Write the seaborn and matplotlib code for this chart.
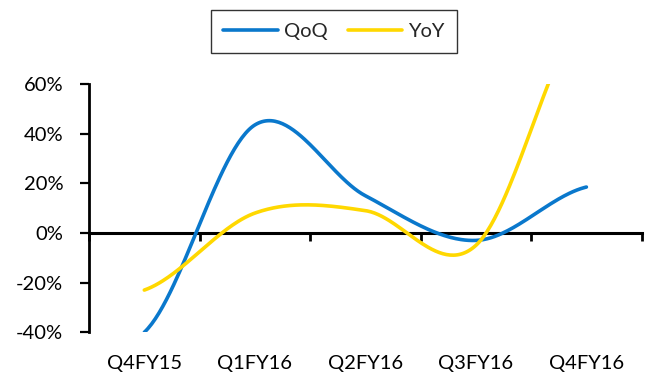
import numpy as np
import pandas as pd
import matplotlib
matplotlib.use("Agg")
import matplotlib.pyplot as plt
import seaborn as sns

categories = ["Q4FY15", "Q1FY16", "Q2FY16", "Q3FY16", "Q4FY16"]
qoq = [-40, 43.5, 15, -3, 18.5]
yoy = [-23, 8, 9, -5, 90]
series_names = ["QoQ", "YoY"]
colors = ["#0A78CC", "#FFD800"]

sns.set_theme(style="white")
plt.rcParams["font.family"] = ["Lato", "DejaVu Sans"]


def smooth(vals, n=60):
    """Catmull-Rom style smoothing (like a spreadsheet 'smoothed line')."""
    y = np.asarray(vals, dtype=float)
    k = len(y)
    m = np.zeros(k)
    for i in range(k):
        if i == 0:
            m[i] = (y[1] - y[0]) * 0.5
        elif i == k - 1:
            m[i] = (y[-1] - y[-2]) * 0.5
        else:
            m[i] = (y[i + 1] - y[i - 1]) / 2.0
    xs, ys = [], []
    for i in range(k - 1):
        t = np.linspace(0, 1, n, endpoint=(i == k - 2))
        h00 = 2 * t**3 - 3 * t**2 + 1
        h10 = t**3 - 2 * t**2 + t
        h01 = -2 * t**3 + 3 * t**2
        h11 = t**3 - t**2
        xs.append(i + t)
        ys.append(h00 * y[i] + h10 * m[i] + h01 * y[i + 1] + h11 * m[i + 1])
    return np.concatenate(xs), np.concatenate(ys)


frames = []
for name, vals in zip(series_names, [qoq, yoy]):
    sx, sy = smooth(vals)
    frames.append(pd.DataFrame({"x": sx, "y": sy, "series": name}))
df = pd.concat(frames, ignore_index=True)

fig = plt.figure(figsize=(6.67, 3.77), dpi=100)
ax = fig.add_axes([0.1335, 0.1186, 0.962 - 0.1335, 0.6586])

sns.lineplot(data=df, x="x", y="y", hue="series", palette=colors,
             linewidth=2.6, ax=ax, sort=False, estimator=None, legend=True)

ax.set_xlim(-0.5, len(categories) - 0.5)
ax.set_ylim(-40, 60)
ax.set_xlabel("")
ax.set_ylabel("")

ax.set_yticks([-40, -20, 0, 20, 40, 60])
ax.set_yticklabels([f"{v}%" for v in [-40, -20, 0, 20, 40, 60]])
ax.set_xticks(range(len(categories)))
ax.set_xticklabels(categories)

for s in ["top", "right", "bottom"]:
    ax.spines[s].set_visible(False)
ax.spines["left"].set_color("black")
ax.spines["left"].set_linewidth(2.0)

ax.tick_params(axis="y", direction="out", length=6.5, width=1.6, color="black",
               pad=12, labelsize=14.5, labelcolor="black", left=True)
ax.tick_params(axis="x", length=0, pad=16, labelsize=14.5, labelcolor="black")

# zero axis line with category-boundary tick marks
sec = ax.secondary_xaxis(0.4)
sec.set_xticks(np.arange(-0.5, len(categories), 1.0))
sec.set_xticklabels([])
sec.tick_params(axis="x", direction="out", length=6, width=2.0, color="black")
sec.spines["bottom"].set_color("black")
sec.spines["bottom"].set_linewidth(2.2)
sec.spines["bottom"].set_visible(True)

handles, labels = ax.get_legend_handles_labels()
ax.get_legend().remove()
for h in handles:
    h.set_linewidth(2.6)
leg = fig.legend(handles, labels, loc="center", bbox_to_anchor=(0.5007, 0.9164),
                 ncol=2, frameon=True, fontsize=14.5, handlelength=2.7,
                 handletextpad=0.3, columnspacing=1.0, borderpad=0.62,
                 borderaxespad=0, fancybox=False)
leg.get_frame().set_edgecolor("black")
leg.get_frame().set_linewidth(1.0)

fig.savefig("out.png", dpi=100)
